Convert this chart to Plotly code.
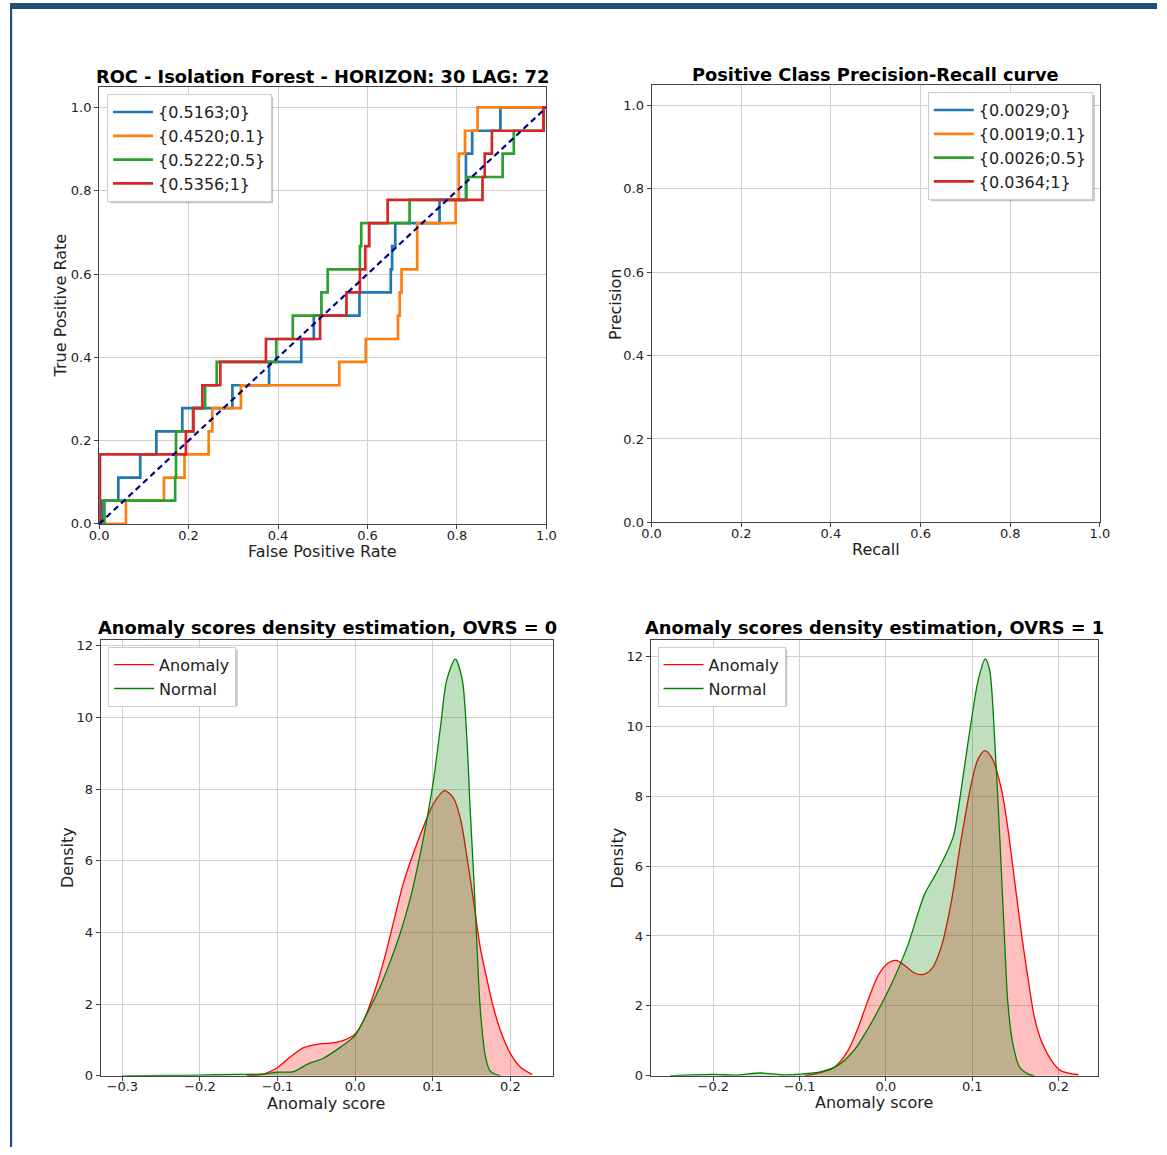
import plotly.graph_objects as go

W, H = 1167, 1155
FONT = "DejaVu Sans"

# ---------------- ROC data (staircase corners, drawn with 'hv') ----------------
roc_labels = ["{0.5163;0}", "{0.4520;0.1}", "{0.5222;0.5}", "{0.5356;1}"]
roc_colors = ["#1f77b4", "#ff7f0e", "#2ca02c", "#d62728"]

fpr_ovrs0 = [0, 0.007, 0.043, 0.092, 0.128, 0.186, 0.298, 0.380, 0.452, 0.480, 0.582,
             0.652, 0.655, 0.662, 0.761, 0.820, 0.834, 0.897, 1.0]
tpr_ovrs0 = [0, 0.056, 0.111, 0.167, 0.222, 0.278, 0.333, 0.389, 0.444, 0.500, 0.556,
             0.611, 0.667, 0.722, 0.778, 0.889, 0.944, 1.000, 1.0]

fpr_ovrs01 = [0, 0.060, 0.145, 0.191, 0.245, 0.253, 0.317, 0.537, 0.596, 0.668, 0.672,
              0.676, 0.711, 0.797, 0.804, 0.818, 0.846, 1.0]
tpr_ovrs01 = [0, 0.056, 0.111, 0.167, 0.222, 0.278, 0.333, 0.389, 0.444, 0.500, 0.556,
              0.611, 0.722, 0.778, 0.889, 0.944, 1.000, 1.0]

fpr_ovrs05 = [0, 0.012, 0.170, 0.172, 0.210, 0.237, 0.263, 0.396, 0.433, 0.497, 0.511,
              0.583, 0.586, 0.694, 0.821, 0.902, 0.927, 0.994, 1.0]
tpr_ovrs05 = [0, 0.056, 0.111, 0.222, 0.278, 0.333, 0.389, 0.444, 0.500, 0.556, 0.611,
              0.667, 0.722, 0.778, 0.833, 0.889, 0.944, 1.000, 1.0]

fpr_ovrs1 = [0, 0.002, 0.194, 0.211, 0.231, 0.271, 0.373, 0.494, 0.553, 0.583, 0.595,
             0.604, 0.645, 0.857, 0.862, 0.878, 0.993, 1.0]
tpr_ovrs1 = [0, 0.167, 0.222, 0.278, 0.333, 0.389, 0.444, 0.500, 0.556, 0.611, 0.667,
             0.722, 0.778, 0.833, 0.889, 0.944, 1.000, 1.0]

roc_fprs = [fpr_ovrs0, fpr_ovrs01, fpr_ovrs05, fpr_ovrs1]
roc_tprs = [tpr_ovrs0, tpr_ovrs01, tpr_ovrs05, tpr_ovrs1]
chance_x = [0, 1]
chance_y = [0, 1]

# ---------------- Precision-Recall legend (curves not visible in picture) ----------------
pr_labels = ["{0.0029;0}", "{0.0019;0.1}", "{0.0026;0.5}", "{0.0364;1}"]

# ---------------- Density data, OVRS = 0 ----------------
d0_anom_x = [-0.140, -0.118, -0.101, -0.084, -0.067, -0.049, -0.032, -0.015, 0.000, 0.011,
             0.024, 0.037, 0.050, 0.062, 0.075, 0.088, 0.101, 0.115, 0.127, 0.136, 0.144,
             0.153, 0.161, 0.170, 0.178, 0.187, 0.200, 0.213, 0.228]
d0_anom_y = [0.00, 0.05, 0.22, 0.52, 0.78, 0.88, 0.91, 0.99, 1.17, 1.55,
             2.29, 3.22, 4.34, 5.37, 6.21, 6.95, 7.60, 7.96, 7.74, 7.14, 6.11,
             4.81, 3.60, 2.67, 1.92, 1.27, 0.62, 0.24, 0.04]
d0_norm_x = [-0.300, -0.250, -0.200, -0.153, -0.118, -0.101, -0.079, -0.062, -0.041, -0.019,
             0.000, 0.015, 0.032, 0.045, 0.058, 0.071, 0.084, 0.093, 0.101, 0.110, 0.118,
             0.129, 0.138, 0.144, 0.148, 0.153, 0.157, 0.161, 0.168, 0.174, 0.187]
d0_norm_y = [0.00, 0.01, 0.02, 0.04, 0.05, 0.10, 0.12, 0.32, 0.49, 0.80,
             1.13, 1.73, 2.48, 3.18, 3.97, 4.95, 6.21, 7.23, 8.26, 9.75, 11.05,
             11.63, 11.05, 9.38, 7.51, 5.46, 3.60, 1.92, 0.52, 0.13, 0.00]

# ---------------- Density data, OVRS = 1 ----------------
d1_anom_x = [-0.094, -0.075, -0.060, -0.044, -0.032, -0.021, -0.009, 0.002, 0.012, 0.022,
             0.033, 0.043, 0.053, 0.064, 0.076, 0.087, 0.099, 0.107, 0.115, 0.124, 0.134,
             0.141, 0.149, 0.157, 0.165, 0.172, 0.180, 0.192, 0.203, 0.223]
d1_anom_y = [0.00, 0.10, 0.24, 0.72, 1.39, 2.15, 2.87, 3.22, 3.30, 3.15,
             2.94, 2.90, 3.06, 3.68, 5.02, 6.74, 8.37, 9.08, 9.30, 9.03, 8.17,
             7.12, 5.59, 4.06, 2.72, 1.67, 1.00, 0.43, 0.14, 0.03]
d1_norm_x = [-0.250, -0.200, -0.175, -0.145, -0.121, -0.098, -0.075, -0.056, -0.036, -0.021,
             -0.005, 0.010, 0.026, 0.037, 0.045, 0.056, 0.068, 0.078, 0.083, 0.091, 0.099,
             0.107, 0.115, 0.120, 0.126, 0.132, 0.138, 0.141, 0.147, 0.155, 0.165, 0.172]
d1_norm_y = [0.00, 0.04, 0.02, 0.08, 0.03, 0.05, 0.12, 0.29, 0.76, 1.34,
             2.06, 2.82, 3.78, 4.64, 5.21, 5.69, 6.26, 6.84, 7.50, 8.84, 10.18,
             11.33, 11.92, 11.62, 9.61, 6.74, 3.59, 2.15, 0.91, 0.24, 0.05, 0.00]

dens_labels = ["Anomaly", "Normal"]
dens_line_colors = ["#ff0000", "#008000"]
dens_fill_colors = ["rgba(255,0,0,0.25)", "rgba(0,128,0,0.25)"]

# ---------------- layout geometry ----------------
# calibration from on-screen pixel positions to figure pixels
SX, OX, SY, OY = 0.982, 10.0, 0.991, 2.0


def PX(r):
    return (r - OX) / SX


def PY(r):
    return (r - OY) / SY


def fx(p):
    return p / W


def fy(p):
    return 1 - p / H


# plot boxes (left, right, top, bottom) in screen pixels
boxes = {
    "roc": (99, 546, 87.5, 524.3),
    "pr": (651, 1099, 85.5, 522.7),
    "d0": (100.5, 553, 640, 1075.5),
    "d1": (650, 1097, 640, 1075.5),
}

fig = go.Figure()

# ROC traces
for lab, col, xs, ys in zip(roc_labels, roc_colors, roc_fprs, roc_tprs):
    fig.add_trace(go.Scatter(x=xs, y=ys, mode="lines", line=dict(color=col, width=2.7, shape="hv"),
                             name=lab, xaxis="x", yaxis="y", legend="legend"))
fig.add_trace(go.Scatter(x=chance_x, y=chance_y, mode="lines",
                         line=dict(color="#000080", width=2.2, dash="6px,4px"),
                         showlegend=False, xaxis="x", yaxis="y"))

# PR traces (legend entries only)
for lab, col in zip(pr_labels, roc_colors):
    fig.add_trace(go.Scatter(x=[None], y=[None], mode="lines", line=dict(color=col, width=2.7),
                             name=lab, xaxis="x2", yaxis="y2", legend="legend2"))

# Density traces
for (xa, ya, xn, yn), xr, yr, lg in [
    ((d0_anom_x, d0_anom_y, d0_norm_x, d0_norm_y), "x3", "y3", "legend3"),
    ((d1_anom_x, d1_anom_y, d1_norm_x, d1_norm_y), "x4", "y4", "legend4"),
]:
    for xs, ys, lc, fc in [(xa, ya, dens_line_colors[0], dens_fill_colors[0]),
                           (xn, yn, dens_line_colors[1], dens_fill_colors[1])]:
        fig.add_trace(go.Scatter(x=xs, y=ys, mode="lines", fill="tozeroy", fillcolor=fc,
                                 line=dict(color=lc, width=1.3, shape="spline", smoothing=0.8),
                                 showlegend=False, xaxis=xr, yaxis=yr))
    for lab, lc in zip(dens_labels, dens_line_colors):
        fig.add_trace(go.Scatter(x=[None], y=[None], mode="lines", line=dict(color=lc, width=1.3),
                                 name=lab, xaxis=xr, yaxis=yr, legend=lg))

GRID = "#d0d0d0"
LINE = "#444444"
TICKFONT = dict(family=FONT, size=13, color="#222222")
TITLEFONT = dict(family=FONT, size=16, color="#222222")


def xdom(k):
    b = boxes[k]
    return [fx(PX(b[0])), fx(PX(b[1]))]


def ydom(k):
    b = boxes[k]
    return [fy(PY(b[3])), fy(PY(b[2]))]


def axis(domain, rng, dtick, fmt, anchor, is_x):
    d = dict(domain=domain, range=rng, dtick=dtick, tick0=0, tickmode="linear",
             tickformat=fmt, showgrid=True, gridcolor=GRID, gridwidth=1, zeroline=False,
             showline=True, linecolor=LINE, linewidth=1, mirror=True,
             ticks="outside", ticklen=4, tickcolor=LINE, tickfont=TICKFONT, anchor=anchor)
    if is_x:
        d["ticklabelstandoff"] = -5
    return d


layout = dict(
    width=W, height=H, autosize=False,
    margin=dict(l=0, r=0, t=0, b=0),
    paper_bgcolor="white", plot_bgcolor="white",
    font=dict(family=FONT, color="#222222"),
    xaxis=axis(xdom("roc"), [0, 1], 0.2, ".1f", "y", True),
    yaxis=axis(ydom("roc"), [0, 1.05], 0.2, ".1f", "x", False),
    xaxis2=axis(xdom("pr"), [0, 1], 0.2, ".1f", "y2", True),
    yaxis2=axis(ydom("pr"), [0, 1.05], 0.2, ".1f", "x2", False),
    xaxis3=axis(xdom("d0"), [-0.328, 0.2555], 0.1, ".1f", "y3", True),
    yaxis3=axis(ydom("d0"), [0, 12.17], 2, "d", "x3", False),
    xaxis4=axis(xdom("d1"), [-0.2727, 0.2456], 0.1, ".1f", "y4", True),
    yaxis4=axis(ydom("d1"), [0, 12.47], 2, "d", "x4", False),
)

# legends: (name, screen left, screen top, approx figure width, approx figure height)
legend_specs = [
    ("legend", 107, 95, 166, 107),
    ("legend2", 927, 93, 167, 107),
    ("legend3", 108, 647, 129, 57),
    ("legend4", 657, 647, 129, 57),
]
for name, lx, ly, lw, lh in legend_specs:
    layout[name] = dict(x=fx(PX(lx)), y=fy(PY(ly)), xanchor="left", yanchor="top",
                        xref="paper", yref="paper", bgcolor="white",
                        bordercolor="#cccccc", borderwidth=1, itemwidth=40,
                        font=dict(family=FONT, size=16, color="#222222"), tracegroupgap=0)

fig.update_layout(**layout)

# legend shadows
for name, lx, ly, lw, lh in legend_specs:
    x0, y0 = PX(lx) + 3, PY(ly) + 3
    fig.add_shape(type="rect", xref="paper", yref="paper",
                  x0=fx(x0), x1=fx(x0 + lw), y0=fy(y0 + lh), y1=fy(y0),
                  fillcolor="rgba(0,0,0,0.22)", line=dict(width=0), layer="above")

# Titles
titles = [
    ("roc", "ROC - Isolation Forest - HORIZON: 30 LAG: 72", -2),
    ("pr", "Positive Class Precision-Recall curve", -2),
    ("d0", "Anomaly scores density estimation, OVRS = 0", 0),
    ("d1", "Anomaly scores density estimation, OVRS = 1", 0),
]
for k, t, ys in titles:
    b = boxes[k]
    fig.add_annotation(text="<b>%s</b>" % t, x=fx(PX((b[0] + b[1]) / 2)), y=fy(PY(b[2])),
                       xref="paper", yref="paper", xanchor="center", yanchor="bottom",
                       yshift=ys, showarrow=False,
                       font=dict(family=FONT, size=17.8, color="black"))

# Axis titles (screen centre positions)
axis_titles = [
    ("False Positive Rate", 322, 552, 0),
    ("True Positive Rate", 60, 306, -90),
    ("Recall", 875, 550, 0),
    ("Precision", 615, 305, -90),
    ("Anomaly score", 326, 1103, 0),
    ("Density", 67, 858, -90),
    ("Anomaly score", 873, 1102, 0),
    ("Density", 617, 858, -90),
]
for t, cx, cy, ang in axis_titles:
    fig.add_annotation(text=t, x=fx(PX(cx)), y=fy(PY(cy)), xref="paper", yref="paper",
                       xanchor="center", yanchor="middle", textangle=ang, showarrow=False,
                       font=TITLEFONT)

# Frame (blue border strips at top and left)
fig.add_shape(type="rect", xref="paper", yref="paper", x0=0, x1=1, y0=fy(PY(10)), y1=fy(PY(4)),
              fillcolor="#1F4E79", line=dict(width=0), layer="above")
fig.add_shape(type="rect", xref="paper", yref="paper", x0=0, x1=fx(2.2), y0=0, y1=fy(PY(4)),
              fillcolor="#1F4E79", line=dict(width=0), layer="above")

fig.write_html("out.html", config={"displayModeBar": False},
               post_script="document.body.style.margin='0';document.body.style.overflow='hidden';")
